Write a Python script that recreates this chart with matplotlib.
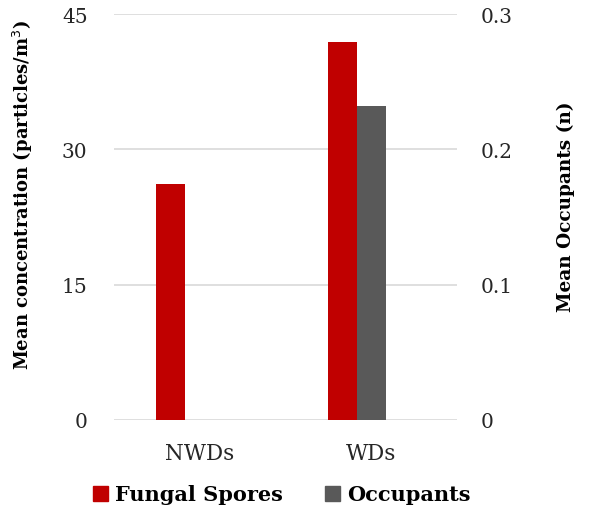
import numpy as np
import matplotlib.pyplot as plt
from matplotlib.patches import Patch

categories = ['NWDs', 'WDs']
fungal_spores = [26.2, 41.9]
occupants = [0.0, 0.232]

plt.rcParams['font.family'] = ['DejaVu Serif']

fig = plt.figure(figsize=(5.89, 5.06), dpi=100)
ax = fig.add_axes([0.1935, 0.168, 0.5825, 0.802])
ax2 = ax.twinx()

red = '#c00000'
gray = '#595959'
w = 0.169
x = np.arange(len(categories))

ax.bar(x - w, fungal_spores, width=w, color=red, zorder=3)
ax2.bar(x, occupants, width=w, color=gray, zorder=3)

ax.set_xlim(-0.5, 1.5)
ax.set_ylim(0, 45)
ax2.set_ylim(0, 0.3)
ax.set_yticks([0, 15, 30, 45])
ax2.set_yticks([0, 0.1, 0.2, 0.3])
ax2.set_yticklabels(['0', '0.1', '0.2', '0.3'])
ax.set_xticks(x)
ax.set_xticklabels(categories)

ax.grid(axis='y', color='#d9d9d9', linewidth=1.2, zorder=0)
for a in (ax, ax2):
    for s in a.spines.values():
        s.set_visible(False)
    a.tick_params(length=0, labelsize=14.5, labelcolor='#262626')
ax.tick_params(axis='x', labelsize=15.5, pad=16)
ax.tick_params(axis='y', pad=19)
ax2.tick_params(axis='y', pad=17)

ax.set_ylabel('Mean concentration (particles/m$^3$)', fontweight='bold', fontsize=13)
ax2.set_ylabel('Mean Occupants (n)', fontweight='bold', fontsize=13.3)
ax.yaxis.set_label_coords(-0.23, 0.557)
ax2.yaxis.set_label_coords(1.291, 0.527)

handles = [Patch(color=red, label='Fungal Spores'), Patch(color=gray, label='Occupants')]
fig.legend(handles=handles, loc='lower center', bbox_to_anchor=(0.478, -0.036), ncol=2, frameon=False,
           prop={'weight': 'bold', 'size': 15}, handlelength=0.72, handleheight=0.72,
           handletextpad=0.35, columnspacing=2.0)

fig.savefig('out.png', dpi=100)
